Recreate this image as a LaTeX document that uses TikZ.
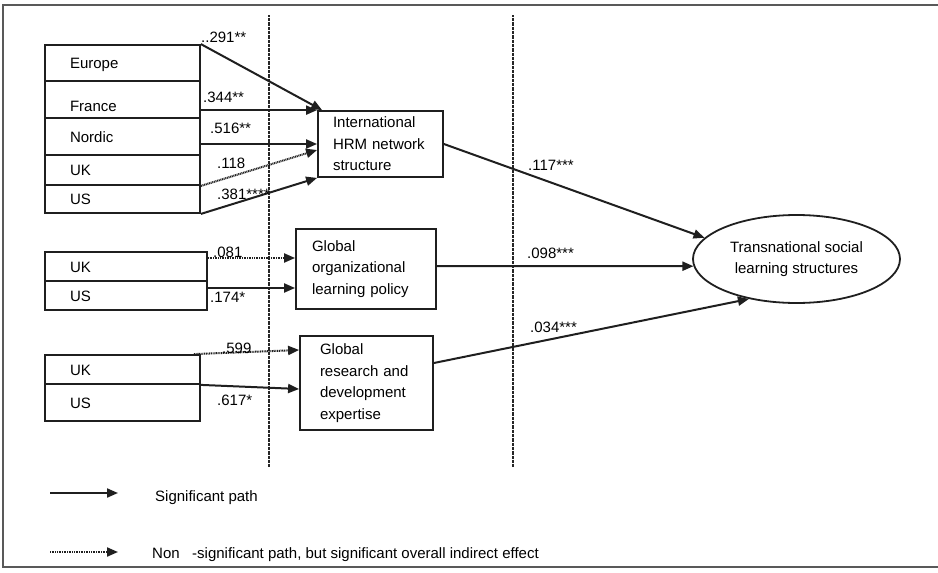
\documentclass[tikz,border=0pt]{standalone}
\usepackage{fontspec}
\setmainfont{Liberation Sans}
\usetikzlibrary{arrows.meta,shapes.geometric}

\begin{document}
\begin{tikzpicture}[x=1pt,y=-1pt,
    font=\fontsize{15}{21.5}\selectfont,
    sig/.style={draw=black!88, line width=2pt, -{Triangle[length=11pt,width=9pt]}},
    nonsig/.style={sig, dash pattern=on 1pt off 0.7pt},
    cbox/.style={draw=black!88, line width=1.8pt, inner xsep=25pt, inner ysep=0pt,
        text width=105pt, align=left, text height=11pt, text depth=0pt},
    mbox/.style={draw=black!88, line width=1.8pt, inner ysep=0pt, align=left},
    lbl/.style={anchor=west, inner sep=0pt, text height=11pt, text depth=0pt},
    divider/.style={black!85, line width=1.3pt, dash pattern=on 0.7pt off 0.6pt}]
    \useasboundingbox (0,0) rectangle (938,573);

    % 绘制外框
    \draw[black!65, line width=1.4pt] (940,5) -- (3,5) -- (3,567) -- (940,567);

    % 绘制两条分隔虚线
    \draw[divider] (269,15) -- (269,467);
    \draw[divider] (513,15) -- (513,467);

    % 绘制第一组国家
    \node[cbox, minimum height=36pt] (europe) at (122.5,63) {Europe};
    \node[cbox, minimum height=37pt, text height=23pt] (france) at (122.5,99.5) {France};
    \node[cbox, minimum height=37pt] (nordic) at (122.5,136.5) {Nordic};
    \node[cbox, minimum height=30pt] (ukA) at (122.5,170) {UK};
    \node[cbox, minimum height=28pt] (usA) at (122.5,199) {US};

    % 绘制第二组和第三组国家
    \node[cbox, text width=112pt, minimum height=29pt] (ukB) at (126,266.5) {UK};
    \node[cbox, text width=112pt, minimum height=29pt] (usB) at (126,295.5) {US};
    \node[cbox, minimum height=29pt] (ukC) at (122.5,369.5) {UK};
    \node[cbox, minimum height=37pt] (usC) at (122.5,402.5) {US};

    % 绘制中间变量
    \node[mbox, text width=95pt, inner xsep=15pt, minimum height=66pt] (hrm) at (380.5,144)
        {International\\HRM network\\structure};
    \node[mbox, text width=108pt, inner xsep=16pt, minimum height=80pt] (org) at (366,269)
        {Global\\organizational\\learning policy};
    \node[mbox, text width=93pt, inner xsep=20pt, minimum height=94pt] (rd) at (366.5,383)
        {Global\\research and\\development\\expertise};

    % 绘制结果变量
    \node[draw=black!88, line width=1.8pt, ellipse, minimum width=207pt, minimum height=88pt,
        inner sep=0pt, align=center] (tsl) at (796.5,259) {Transnational social\\learning structures};

    % 第一组路径
    \draw[sig] (europe.north east) -- ([xshift=5pt]hrm.north west);
    \draw[sig] (france.east |- hrm.north west) -- (hrm.north west);
    \draw[sig] (nordic.east |- hrm.west) -- (hrm.west);
    \draw[nonsig] (ukA.south east) -- ([yshift=-6pt]hrm.west);
    \draw[sig] (usA.south east) -- (hrm.south west);

    % 第二组和第三组路径
    \draw[nonsig] ([yshift=8.5pt]ukB.east) -- ([yshift=11pt]org.west);
    \draw[sig] ([yshift=7.5pt]usB.east) -- ([yshift=-19pt]org.west);
    \draw[nonsig] ([xshift=-7pt]ukC.north east) -- ([yshift=33pt]rd.west);
    \draw[sig] (ukC.south east) -- ([yshift=-6pt]rd.west);

    % 到结果变量的路径
    \draw[sig] (hrm.east) -- (tsl.167);
    \draw[sig] ([yshift=3pt]org.east) -- (tsl.184);
    \draw[sig] ([yshift=20pt]rd.east) -- (tsl.220);

    % 路径系数
    \node[lbl] (b291) at (201,37) {..291**};
    \node[lbl] (b344) at (203,97) {.344**};
    \node[lbl] (b516) at (210,128) {.516**};
    \node[lbl] (b118) at (217,163) {.118};
    \node[lbl] (b381) at (217,194) {.381****};
    \node[lbl] (b081) at (213,252) {.081};
    \node[lbl] (b174) at (210,297) {.174*};
    \node[lbl] (b599) at (222,348) {.599};
    \node[lbl] (b617) at (217,400) {.617*};
    \node[lbl] (b117) at (528,165) {.117***};
    \node[lbl] (b098) at (527,253) {.098***};
    \node[lbl] (b034) at (530,327) {.034***};

    % 图例
    \coordinate (sigA) at (50,493);
    \coordinate (sigB) at (118,493);
    \draw[sig] (sigA) -- (sigB);
    \node[lbl] (sigtxt) at (155,496) {Significant path};
    \coordinate (nsA) at (50,552);
    \coordinate (nsB) at (118,552);
    \draw[nonsig] (nsA) -- (nsB);
    \node[lbl] (nstxt) at (152,553) {Non~~~-significant path, but significant overall indirect effect};
\end{tikzpicture}
\end{document}
